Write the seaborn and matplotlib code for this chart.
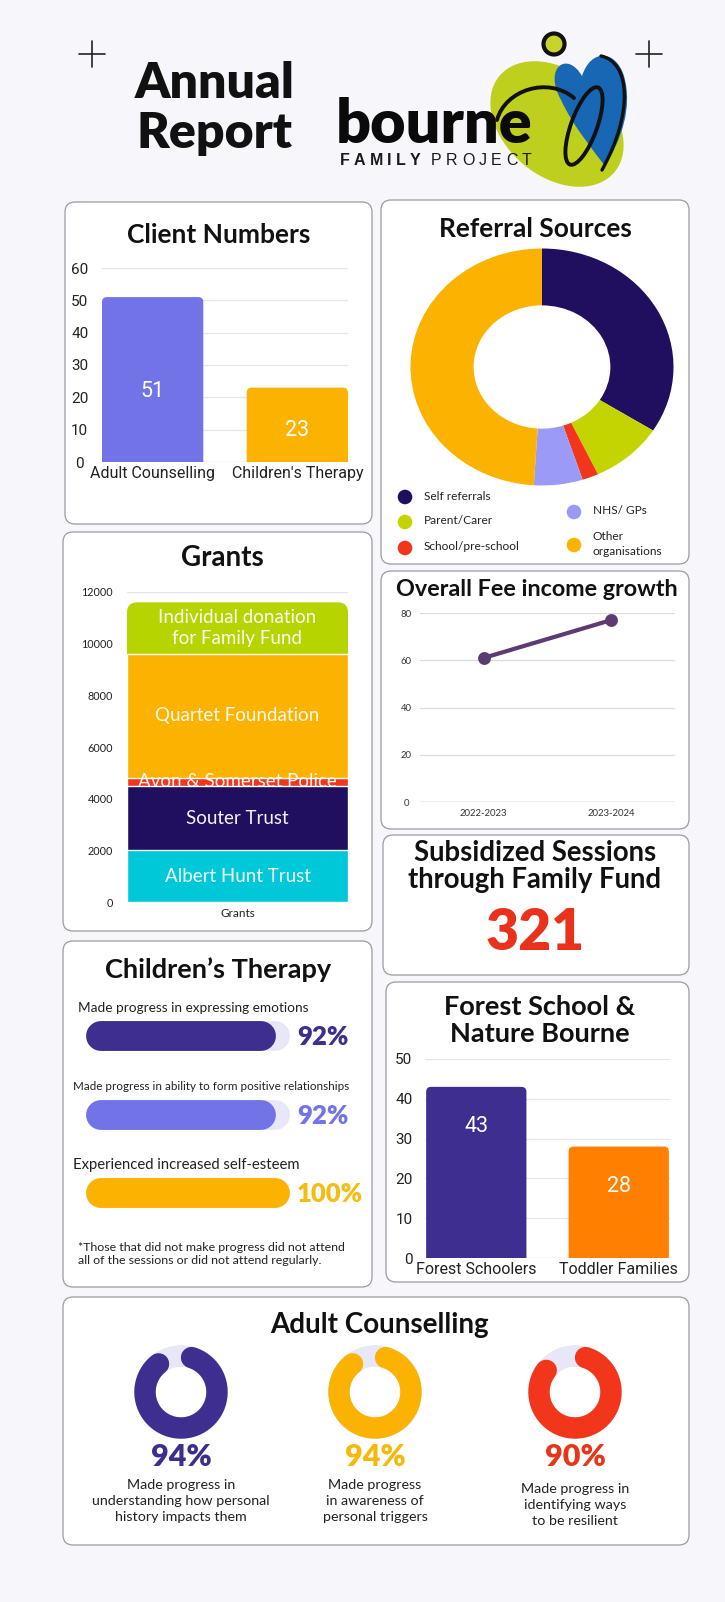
import numpy as np
import pandas as pd
import matplotlib
matplotlib.use("Agg")
import matplotlib.pyplot as plt
import seaborn as sns
from matplotlib.patches import FancyBboxPatch, Ellipse, Circle, PathPatch
from matplotlib.path import Path

# ---------------- data ----------------
client_cats = ["Adult Counselling", "Children's Therapy"]
client_vals = [51, 23]

referral_labels = ["Self referrals", "Parent/Carer", "School/pre-school", "NHS/ GPs", "Other\norganisations"]
referral_vals = [34, 9, 2, 6, 49]

grant_labels = ["Albert Hunt Trust", "Souter Trust", "Avon & Somerset Police",
                "Quartet Foundation", "Individual donation\nfor Family Fund"]
grant_vals = [2000, 2500, 300, 4800, 2000]
grant_ticks = [0, 2000, 4000, 6000, 8000, 10000, 12000]

fee_years = ["2022-2023", "2023-2024"]
fee_vals = [61, 77]
fee_ticks = [0, 20, 40, 60, 80]

subsidized_sessions = 321

child_labels = ["Made progress in expressing emotions",
                "Made progress in ability to form positive relationships",
                "Experienced increased self-esteem"]
child_vals = [92, 92, 100]

forest_cats = ["Forest Schoolers", "Toddler Families"]
forest_vals = [43, 28]

adult_vals = [94, 94, 90]
adult_labels = ["Made progress in\nunderstanding how personal\nhistory impacts them",
                "Made progress\nin awareness of\npersonal triggers",
                "Made progress in\nidentifying ways\nto be resilient"]

# ---------------- style ----------------
BG = "#f7f7fb"
EDGE = "#9a9aa8"
PERI = "#7373e8"
AMBER = "#fcb200"
NAVY = "#1f0f5e"
LIME = "#c3d400"
LIME2 = "#b6d400"
RED = "#f2361b"
LAV = "#9b9bf7"
CYAN = "#00c8d8"
PURPLE = "#3e2e8f"
ORANGE = "#ff7f00"
FEE = "#5b3b70"
TRACK = "#e7e7f7"

sns.set_theme(style="white")
plt.rcParams["font.family"] = ["Lato", "DejaVu Sans"]

W, H = 725, 1602
fig = plt.figure(figsize=(W / 100, H / 100), dpi=100)
fig.patch.set_facecolor(BG)

bg = fig.add_axes([0, 0, 1, 1])
bg.set_xlim(0, W)
bg.set_ylim(H, 0)
bg.axis("off")
bg.set_zorder(0)


def axes_px(x0, y0, x1, y1, **kw):
    ax = fig.add_axes([x0 / W, 1 - y1 / H, (x1 - x0) / W, (y1 - y0) / H], **kw)
    ax.set_zorder(2)
    ax.patch.set_alpha(0)
    return ax


def panel(x0, y0, x1, y1):
    bg.add_patch(FancyBboxPatch((x0, y0), x1 - x0, y1 - y0,
                                boxstyle="round,pad=0,rounding_size=10",
                                fc="white", ec=EDGE, lw=0.9, zorder=1))


def title(x, y, s, size=19):
    bg.text(x, y, s, ha="center", va="center", fontsize=size,
            fontweight="bold", color="#111111", zorder=5)


def clean(ax):
    for sp in ax.spines.values():
        sp.set_visible(False)
    ax.tick_params(length=0)
    ax.set_xlabel("")
    ax.set_ylabel("")


def round_tops(ax, radius_px, which=None):
    """Replace bar rectangles by boxes with rounded top corners (bottom hidden below 0)."""
    bb = ax.get_window_extent()
    x0, x1 = ax.get_xlim()
    y0, y1 = ax.get_ylim()
    sx = (x1 - x0) / bb.width
    sy = (y1 - y0) / bb.height
    asp = sy / sx
    r = radius_px * sx
    patches = list(ax.patches)
    for k, p in enumerate(patches):
        if which is not None and k not in which:
            continue
        x, y, w, h = p.get_x(), p.get_y(), p.get_width(), p.get_height()
        ext = r * asp * 1.5
        newp = FancyBboxPatch((x, y - ext), w, h + ext,
                              boxstyle=f"round,pad=0,rounding_size={r}",
                              mutation_aspect=asp, fc=p.get_facecolor(), ec="none",
                              zorder=p.get_zorder() - 0.05)
        p.remove()
        ax.add_patch(newp)


# ---------------- header ----------------
for cx in (92, 649):
    bg.plot([cx - 13, cx + 13], [54, 54], color="#222", lw=1.2, zorder=3)
    bg.plot([cx, cx], [41, 67], color="#222", lw=1.2, zorder=3)

bg.text(215, 83, "Annual", ha="center", va="center", fontsize=36, fontweight="heavy", color="#111", zorder=3)
bg.text(215, 134, "Report", ha="center", va="center", fontsize=36, fontweight="heavy", color="#111", zorder=3)

# logo shapes
bg.add_patch(Ellipse((557, 124), 150, 105, angle=40, fc="#bfcf1e", ec="none", zorder=2))
heart = Path([(582, 76), (567, 50), (543, 68), (561, 100),
              (573, 126), (593, 150), (605, 166),
              (621, 140), (633, 108), (624, 76),
              (616, 50), (591, 48), (582, 76)],
             [Path.MOVETO, Path.CURVE4, Path.CURVE4, Path.CURVE4,
              Path.CURVE4, Path.CURVE4, Path.CURVE4,
              Path.CURVE4, Path.CURVE4, Path.CURVE4,
              Path.CURVE4, Path.CURVE4, Path.CURVE4])
bg.add_patch(PathPatch(heart, fc="#1767b4", ec="none", zorder=2.2))
bg.add_patch(Circle((554, 44), 10.5, fc="#c8d42a", ec="#111", lw=3, zorder=2.5))
arc = Path([(497, 120), (505, 90), (548, 76), (574, 98)],
           [Path.MOVETO, Path.CURVE4, Path.CURVE4, Path.CURVE4])
bg.add_patch(PathPatch(arc, fc="none", ec="#111", lw=2.8, zorder=2.6, capstyle="round"))
bg.add_patch(Ellipse((584, 126), 26, 82, angle=20, fc="none", ec="#111", lw=2.8, zorder=2.6))
rim = Path([(601, 56), (630, 62), (634, 112), (602, 170)],
           [Path.MOVETO, Path.CURVE4, Path.CURVE4, Path.CURVE4])
bg.add_patch(PathPatch(rim, fc="none", ec="#111", lw=2.4, zorder=2.6, capstyle="round"))

bg.text(336, 143, "bourne", ha="left", va="baseline", fontsize=44, fontweight="heavy",
        color="#0a0a0a", zorder=4)
renderer = fig.canvas.get_renderer()


def spaced(x, y, s, size, weight, track, color):
    for ch in s:
        t = bg.text(x, y, ch, fontsize=size, fontweight=weight, color=color,
                    va="baseline", ha="left", zorder=4,
                    family=["Liberation Sans", "DejaVu Sans"])
        bb = t.get_window_extent(renderer=renderer)
        x += bb.width + track
    return x


xx = spaced(340, 165, "FAMILY", 11.5, "bold", 4.2, "#1a1a1a")
spaced(xx + 6, 165, "PROJECT", 11.5, "normal", 4.4, "#1a1a1a")

# ---------------- panels ----------------
panel(65, 202, 372, 524)
panel(381, 200, 689, 564)
panel(63, 532, 372, 931)
panel(381, 571, 689, 829)
panel(383, 835, 689, 975)
panel(63, 941, 372, 1287)
panel(386, 982, 689, 1282)
panel(63, 1297, 689, 1545)

# ---------------- Client Numbers ----------------
title(219, 235, "Client Numbers", 19)
ax = axes_px(102, 268, 348, 462)
dfc = pd.DataFrame({"cat": client_cats, "val": client_vals})
sns.barplot(data=dfc, x="cat", y="val", hue="cat", palette=[PERI, AMBER], width=0.7,
            saturation=1, legend=False, ax=ax, zorder=3)
ax.set_xlim(-0.35, 1.35)
ax.set_ylim(0, 60)
round_tops(ax, 5)
ax.set_yticks(range(0, 61, 10))
ax.yaxis.grid(True, color="#e6e6ea", lw=0.9)
ax.set_axisbelow(True)
ax.axhline(0, color="#c8c8cc", lw=0.8, zorder=2)
clean(ax)
for lab in ax.get_yticklabels():
    lab.set_ha("center")
ax.tick_params(axis="y", pad=16, labelsize=11, labelcolor="#222")
ax.tick_params(axis="x", pad=3, labelsize=11.5, labelcolor="#222")
for lab in ax.get_xticklabels() + ax.get_yticklabels():
    lab.set_family(["Roboto", "DejaVu Sans"])
for i, v in enumerate(client_vals):
    ax.text(i, v * 0.43, str(v), ha="center", va="center", color="white",
            fontsize=15.5, family=["Roboto", "DejaVu Sans"], zorder=4)

# ---------------- Referral Sources ----------------
title(535, 229, "Referral Sources", 19)
ax = axes_px(410.5, 248.5, 673.5, 485.5)
ref_colors = [NAVY, LIME, RED, LAV, AMBER]
ax.pie(referral_vals, colors=ref_colors, startangle=90, counterclock=False,
       wedgeprops=dict(width=0.48, edgecolor="none"), radius=1)
ax.set_aspect("auto")
ax.set_xlim(-1, 1)
ax.set_ylim(-1, 1)
leg_pos = [(405, 497), (405, 522), (405, 548), (574, 512), (574, 545)]
for (lx, ly), c, lab in zip(leg_pos, ref_colors, referral_labels):
    bg.scatter([lx], [ly], s=110, color=c, zorder=5, edgecolors="none")
    bg.text(lx + 19, ly - 1, lab, ha="left", va="center", fontsize=8.6,
            color="#222", zorder=5, linespacing=1.45)

# ---------------- Grants ----------------
title(222, 558, "Grants", 20)
ax = axes_px(127, 592, 348, 902)
cum = np.cumsum(grant_vals)
grant_colors = [CYAN, NAVY, RED, AMBER, LIME2]
for k in range(len(grant_vals) - 1, -1, -1):
    sns.barplot(x=["Grants"], y=[cum[k]], color=grant_colors[k], width=1,
                saturation=1, ax=ax, zorder=3)
ax.set_xlim(-0.5, 0.5)
ax.set_ylim(0, 12000)
round_tops(ax, 10, which=[0])
ax.set_yticks(grant_ticks)
ax.yaxis.grid(True, color="#e6e6ea", lw=0.9)
ax.set_axisbelow(True)
clean(ax)
ax.tick_params(axis="y", pad=10, labelsize=7.8, labelcolor="#222")
ax.tick_params(axis="x", pad=4, labelsize=8.5, labelcolor="#222")
bottoms = cum - np.array(grant_vals)
for k, lab in enumerate(grant_labels):
    ax.text(0, bottoms[k] + grant_vals[k] / 2, lab, ha="center", va="center",
            color="white", fontsize=13.5, zorder=5, linespacing=1.3, alpha=0.95)

# ---------------- Fee income ----------------
title(537, 589, "Overall Fee income growth", size=16.8)
ax = axes_px(420, 613, 675, 802)
dff = pd.DataFrame({"year": fee_years, "val": fee_vals})
sns.pointplot(data=dff, x="year", y="val", color=FEE, markers="o", markersize=7,
              linewidth=3, ax=ax)
ax.set_xlim(-0.5, 1.5)
ax.set_ylim(0, 80)
ax.set_yticks(fee_ticks)
ax.yaxis.grid(True, color="#dcdce0", lw=0.9)
ax.set_axisbelow(True)
ax.axhline(0, color="#b8b8bc", lw=1, zorder=1)
clean(ax)
for lab in ax.get_yticklabels():
    lab.set_ha("center")
ax.tick_params(axis="y", pad=10, labelsize=6.8, labelcolor="#333")
ax.tick_params(axis="x", pad=5, labelsize=6.8, labelcolor="#333")

# ---------------- Subsidized sessions ----------------
title(535, 853, "Subsidized Sessions", size=19.8)
title(535, 880, "through Family Fund", size=19.8)
bg.text(535, 933, str(subsidized_sessions), ha="center", va="center", fontsize=41,
        fontweight="heavy", color="#e8321c", zorder=5)

# ---------------- Children's Therapy ----------------
title(218, 970, "Children\u2019s Therapy", 19.5)
ax = axes_px(86, 997, 290, 1232)
cap = 15 * 100 / 172
ax.set_xlim(-cap, 100 + cap)
ax.set_ylim(2.5, -0.5)
ax.axis("off")
child_colors = [PURPLE, PERI, AMBER]
pct_colors = [PURPLE, PERI, "#f4bd12"]
for i, v in enumerate(child_vals):
    ax.plot([0, 100], [i, i], color=TRACK, lw=21.5, solid_capstyle="round", zorder=2)
    ax.plot([0, v], [i, i], color=child_colors[i], lw=21.5, solid_capstyle="round", zorder=3)
label_x = [78, 73, 73]
label_size = [9.8, 8.4, 10.7]
for i, lab in enumerate(child_labels):
    yb = 1036 + i * 78.5
    bg.text(label_x[i], yb - 28, lab, ha="left", va="center", fontsize=label_size[i],
            color="#222", zorder=5)
    bg.text(297, yb + 1, f"{child_vals[i]}%", ha="left", va="center", fontsize=18.5,
            fontweight="heavy", color=pct_colors[i], zorder=5)
bg.text(78, 1254, "*Those that did not make progress did not attend\nall of the sessions or did not attend regularly.",
        ha="left", va="center", fontsize=8.9, color="#222", zorder=5, linespacing=1.12)

# ---------------- Forest School ----------------
title(540, 1007, "Forest School &", 19.5)
title(540, 1034, "Nature Bourne", 19.5)
ax = axes_px(425, 1059, 670, 1258)
dfs = pd.DataFrame({"cat": forest_cats, "val": forest_vals})
sns.barplot(data=dfs, x="cat", y="val", hue="cat", palette=[PURPLE, ORANGE], width=0.704,
            saturation=1, legend=False, ax=ax, zorder=3)
ax.set_xlim(-0.36, 1.36)
ax.set_ylim(0, 50)
round_tops(ax, 5)
ax.set_yticks(range(0, 51, 10))
ax.yaxis.grid(True, color="#e6e6ea", lw=0.9)
ax.set_axisbelow(True)
ax.axhline(0, color="#c8c8cc", lw=0.8, zorder=2)
clean(ax)
ax.tick_params(axis="y", pad=9, labelsize=11, labelcolor="#222")
ax.tick_params(axis="x", pad=3, labelsize=11.5, labelcolor="#222")
for lab in ax.get_xticklabels() + ax.get_yticklabels():
    lab.set_family(["Roboto", "DejaVu Sans"])
for i, v in enumerate(forest_vals):
    ax.text(i, v - 10, str(v), ha="center", va="center", color="white",
            fontsize=15.5, family=["Roboto", "DejaVu Sans"], zorder=4)

# ---------------- Adult Counselling ----------------
title(379, 1325, "Adult Counselling", 20)
ring_centers = [181, 375, 575]
ring_colors = [PURPLE, AMBER, RED]
pct_col = ["#3d2d8c", "#f5b90c", "#e8351a"]
R_AX = 56
r_c = 36 / R_AX
cap_ang = 10.7 / 36
for cx, v, c, pc, lab in zip(ring_centers, adult_vals, ring_colors, pct_col, adult_labels):
    pax = fig.add_axes([(cx - R_AX) / W, 1 - (1392 + R_AX) / H, 2 * R_AX / W, 2 * R_AX / H],
                       projection="polar")
    pax.set_zorder(2)
    pax.patch.set_alpha(0)
    pax.set_theta_zero_location("N")
    pax.set_theta_direction(-1)
    th = np.linspace(0, 2 * np.pi, 361)
    pax.plot(th, np.full_like(th, r_c), color=TRACK, lw=15.4, zorder=2)
    tv = np.linspace(cap_ang, v / 100 * 2 * np.pi - cap_ang, 300)
    pax.plot(tv, np.full_like(tv, r_c), color=c, lw=15.4, solid_capstyle="round", zorder=3)
    pax.set_ylim(0, 1)
    pax.axis("off")
    bg.text(cx, 1457, f"{v}%", ha="center", va="center", fontsize=22, fontweight="heavy",
            color=pc, zorder=5)
    off = 4 if cx == ring_centers[2] else 0
    bg.text(cx, 1501 + off, lab, ha="center", va="center", fontsize=10.3, color="#222",
            zorder=5, linespacing=1.4)

fig.savefig("out.png", dpi=100, facecolor=BG)
